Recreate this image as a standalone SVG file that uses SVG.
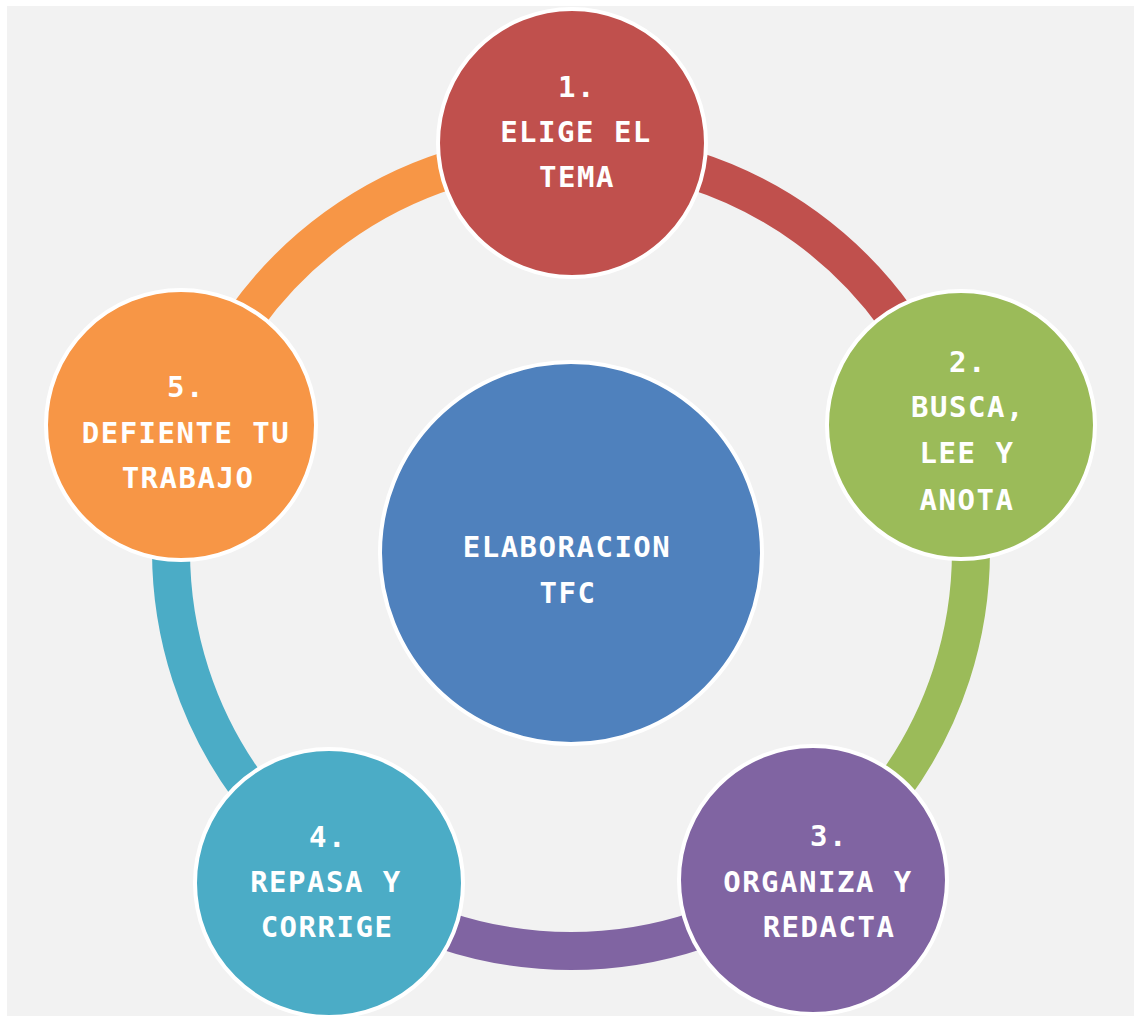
<svg xmlns="http://www.w3.org/2000/svg" width="1134" height="1016" viewBox="0 0 1134 1016">
<style>
.ring{fill:none;stroke-width:38}
.node{stroke:#ffffff;stroke-width:4}
.lbl{font-family:"DejaVu Sans Mono","Liberation Mono",monospace;font-weight:bold;font-size:29px;fill:#ffffff;text-anchor:middle;letter-spacing:1.5px}
</style>
<rect x="0" y="0" width="1134" height="1016" fill="#ffffff"/>
<rect x="7" y="6" width="1127" height="1010" fill="#f2f2f2"/>
<g id="connectors">
<path class="ring" stroke="#c0504d" d="M571,151 A400,400 0 0 1 951.4,427.4"/>
<path class="ring" stroke="#9bbb59" d="M951.4,427.4 A400,400 0 0 1 806.1,874.6"/>
<path class="ring" stroke="#8064a2" d="M806.1,874.6 A400,400 0 0 1 335.9,874.6"/>
<path class="ring" stroke="#4bacc6" d="M335.9,874.6 A400,400 0 0 1 190.6,427.4"/>
<path class="ring" stroke="#f79646" d="M190.6,427.4 A400,400 0 0 1 571,151"/>
</g>
<g id="center">
<circle class="node" cx="571" cy="553" r="191" fill="#4f81bd"/>
<text class="lbl" x="567" y="557">ELABORACION</text>
<text class="lbl" x="568" y="603">TFC</text>
</g>
<g id="node1">
<circle class="node" cx="572" cy="143" r="134" fill="#c0504d"/>
<text class="lbl" x="577" y="97">1.</text>
<text class="lbl" x="576" y="142">ELIGE EL</text>
<text class="lbl" x="577" y="187">TEMA</text>
</g>
<g id="node2">
<circle class="node" cx="961" cy="425" r="134" fill="#9bbb59"/>
<text class="lbl" x="968" y="372">2.</text>
<text class="lbl" x="968" y="417">BUSCA,</text>
<text class="lbl" x="967" y="463">LEE Y</text>
<text class="lbl" x="967" y="510">ANOTA</text>
</g>
<g id="node3">
<circle class="node" cx="813" cy="880" r="134" fill="#8064a2"/>
<text class="lbl" x="829" y="846">3.</text>
<text class="lbl" x="818" y="892">ORGANIZA Y</text>
<text class="lbl" x="829" y="937">REDACTA</text>
</g>
<g id="node4">
<circle class="node" cx="329" cy="883" r="134" fill="#4bacc6"/>
<text class="lbl" x="328" y="847">4.</text>
<text class="lbl" x="326" y="892">REPASA Y</text>
<text class="lbl" x="327" y="937">CORRIGE</text>
</g>
<g id="node5">
<circle class="node" cx="181" cy="425" r="135" fill="#f79646"/>
<text class="lbl" x="186" y="397">5.</text>
<text class="lbl" x="186" y="443">DEFIENTE TU</text>
<text class="lbl" x="188" y="488">TRABAJO</text>
</g>
</svg>
